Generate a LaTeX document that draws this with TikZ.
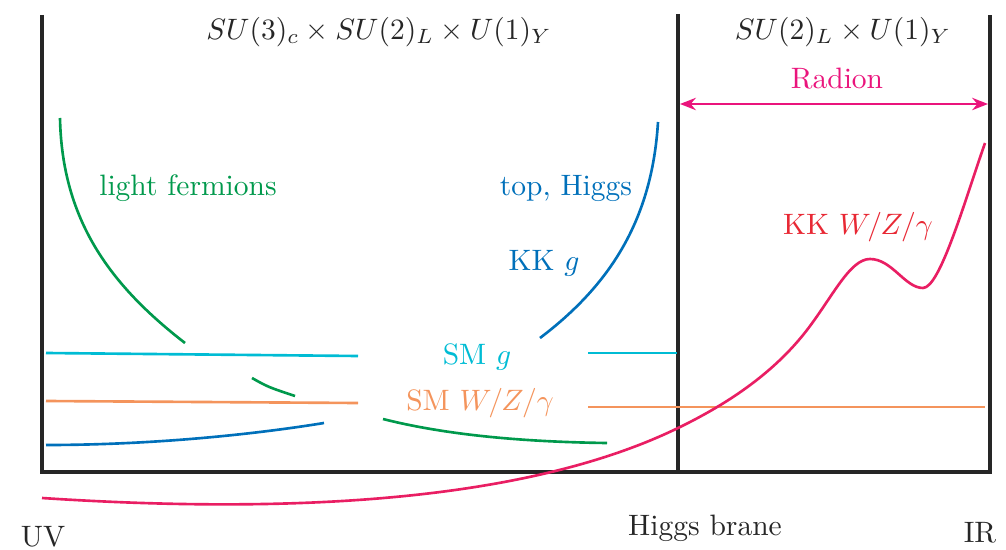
\documentclass[tikz,border=0pt]{standalone}
\usetikzlibrary{arrows.meta}
\definecolor{fermgreen}{RGB}{0,153,76}
\definecolor{topblue}{RGB}{0,112,186}
\definecolor{smcyan}{RGB}{0,188,212}
\definecolor{smorange}{RGB}{244,148,92}
\definecolor{radmag}{RGB}{234,20,124}
\definecolor{kkpink}{RGB}{233,30,99}
\definecolor{kkred}{RGB}{232,40,52}
\begin{document}
\begin{tikzpicture}[x=0.02cm, y=-0.02cm,
    every node/.style={scale=1.68, transform shape, inner sep=0.5pt},
    wall/.style={line width=1.9pt, black!85},
    prof/.style={line width=1.5pt}]
  \useasboundingbox (0, 0) rectangle (1006, 550);

  % Branes
  \draw[wall] (42, 15) -- (42, 472) -- (990, 472) -- (990, 15);
  \draw[wall] (678, 14) -- (678, 472);
  \node[black!85] (uv) at (43, 537) {UV};
  \node[black!85] (hb) at (705, 528) {Higgs brane};
  \node[black!85] (ir) at (980, 533) {IR};

  % Gauge groups
  \node[black!85] (bulk) at (379, 32) {$SU(3)_c\times SU(2)_L\times U(1)_Y$};
  \node[black!85] (ew) at (843, 32) {$SU(2)_L\times U(1)_Y$};

  % Radion
  \coordinate (radl) at (680, 104);
  \coordinate (radr) at (988, 104);
  \draw[radmag, line width=1.4pt, {Stealth[length=9pt, width=7pt]}-{Stealth[length=9pt, width=7pt]}]
    (radl) -- (radr);
  \node[radmag] (rad) at (837, 79) {Radion};

  % Light fermions (UV localised)
  \draw[prof, fermgreen] (60, 118) .. controls (62, 220) and (110, 285) .. (185, 343);
  \draw[prof, fermgreen] (252, 378) .. controls (268, 387) .. (295, 396);
  \draw[prof, fermgreen] (383, 419) .. controls (450, 436) and (530, 442) .. (607, 443);
  \node[fermgreen] (lf) at (188, 188) {light fermions};

  % Top, Higgs, KK gluon (IR localised)
  \draw[prof, topblue] (658, 122) .. controls (652, 220) and (610, 285) .. (540, 338);
  \draw[prof, topblue] (46, 445) .. controls (150, 445) and (250, 435) .. (324, 423);
  \node[topblue] (th) at (566, 188) {top, Higgs};
  \node[topblue] (kkg) at (544, 263) {KK $g$};

  % SM gluon
  \draw[prof, smcyan] (46, 353) -- (358, 356);
  \draw[prof, smcyan] (588, 353) -- (677, 353);
  \node[smcyan] (smg) at (477, 357) {SM $g$};

  % SM electroweak
  \draw[prof, smorange] (46, 401) -- (358, 403);
  \draw[prof, smorange] (588, 407) -- (985, 407);
  \node[smorange] (smw) at (480, 403) {SM $W/Z/\gamma$};

  % KK electroweak
  \draw[prof, kkpink] (42, 498) .. controls (300, 515) and (530, 500) .. (678, 428)
    .. controls (740, 398) and (780, 365) .. (807, 330)
    .. controls (833, 296) and (850, 259) .. (870, 259)
    .. controls (892, 259) and (905, 288) .. (923, 288)
    .. controls (940, 288) and (965, 200) .. (985, 143);
  \node[kkred] (kkw) at (858, 227) {KK $W/Z/\gamma$};
\end{tikzpicture}
\end{document}
